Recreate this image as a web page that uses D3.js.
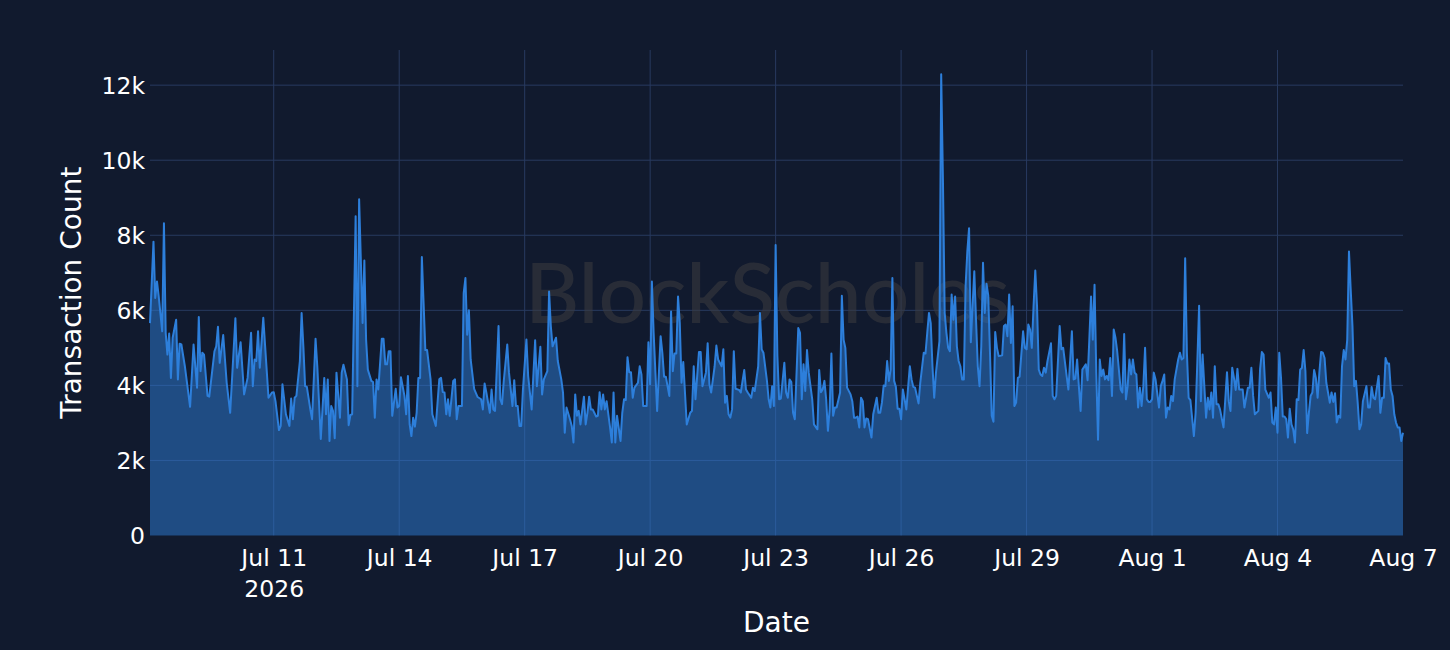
<!DOCTYPE html>
<html>
<head>
<meta charset="utf-8">
<script src="https://cdn.jsdelivr.net/npm/d3@7"></script>
<style>
  html, body { margin: 0; padding: 0; background: #111a2e; }
  svg { display: block; }
</style>
</head>
<body>
<svg id="chart" width="1450" height="650"></svg>
<script>
// ---- data (hourly transaction counts) ----
const startDate = "2026-07-08T00:00:00";
const hourOffsets = [1,3,4,5,6,8,9,10,11,12,13,14,16,17,18,19,21,24,26,28,29,30,31,32,34,35,38,39,40,41,43,45,47,50,51,53,55,57,59,60,61,62,63,64,66,68,69,71,72,73,75,76,77,79,81,82,83,84,85,87,88,89,90,91,93,94,96,97,99,101,102,103,104,105,106,107,108,110,111,112,114,115,116,117,119,120,121,123,124,125,126,128,129,130,131,132,134,135,136,137,138,139,140,142,143,144,145,147,148,149,150,151,152,153,154,155,156,157,158,159,160,162,163,165,167,168,169,170,171,172,173,175,176,177,178,180,181,182,183,184,185,187,189,191,192,193,194,196,197,198,199,201,202,203,204,206,207,209,210,211,212,213,214,215,217,218,220,222,223,225,226,227,229,230,231,232,234,235,237,238,239,240,242,243,244,245,246,247,248,250,251,252,253,254,255,257,258,259,260,261,262,263,265,266,267,268,269,271,272,273,274,275,276,277,278,279,281,282,283,284,286,287,288,289,290,292,294,295,296,297,299,300,301,302,303,304,305,306,307,309,311,312,313,314,316,317,318,320,321,322,323,325,326,327,329,330,331,332,333,334,335,336,337,339,340,342,343,344,346,347,348,350,351,352,353,355,356,357,358,359,360,361,362,363,365,366,367,368,369,370,371,373,374,375,376,377,378,379,381,382,384,385,386,387,388,389,390,391,392,393,394,395,397,398,399,400,401,403,404,405,406,407,408,409,410,411,412,413,415,416,418,419,420,421,422,423,424,425,426,427,428,429,430,431,432,433,434,435,437,438,439,440,442,443,445,446,447,448,449,450,451,452,454,455,456,457,458,459,460,461,462,463,464,465,466,467,468,469,470,471,472,473,474,475,476,477,478,479,480,481,482,483,484,485,486,487,488,490,491,492,493,494,495,496,497,498,499,500,502,503,504,505,506,507,508,509,510,511,512,513,514,515,516,518,519,520,521,523,524,525,527,528,530,531,532,533,534,535,536,538,539,540,541,542,543,544,545,546,547,548,549,550,551,552,553,554,555,556,558,559,560,561,562,563,564,565,566,567,568,569,570,571,572,573,574,575,576,577,578,580,581,582,583,584,585,586,587,588,589,591,592,593,594,595,596,597,598,600,601,602,603,604,605,606,607,608,609,610,611,612,613,614,615,617,619,620,621,622,623,624,625,626,628,629,631,632,633,634,635,637,638,639,640,641,643,644,645,646,647,648,649,650,651,652,653,654,655,656,657,658,659,660,661,662,663,664,665,666,667,668,669,670,671,672,673,674,675,676,678,679,680,681,682,683,684,685,686,687,688,689,690,691,692,693,694,695,696,697,699,700,701,702,703,704,705,706,707,708,709,710,711,712,713,714,715,716,717,718,719,720];
const txCounts = [5660,7830,6330,6770,6370,5440,8320,5400,4820,5380,4200,5270,5750,4160,5110,5090,4510,3430,5090,3940,5820,4380,4870,4820,3720,3700,4910,5040,5560,4600,5340,4070,3270,5790,4470,5150,3760,4200,5400,3980,4690,4650,5440,4470,5800,4380,3670,3810,3820,3580,2810,2920,4030,3230,2920,3650,3100,3670,3720,4650,5930,5040,3980,3960,3360,3100,5240,4510,2570,4200,3230,4160,2520,3450,3320,2590,4340,3140,4340,4550,4160,2940,3210,3230,8510,3980,8960,5660,7330,5220,4420,4120,4090,3140,4160,3890,5240,5240,4560,4560,4910,4910,3190,3910,3410,3450,4220,3720,3230,4250,2960,2650,3140,2900,3270,4200,4200,7420,6190,4940,4940,4160,3230,2920,4160,4200,3820,3810,3230,3630,3190,4120,4160,3100,3450,3450,6460,6860,5350,6000,4690,3910,3690,3630,3360,4050,3810,3270,3890,3360,3320,5580,3630,3500,4120,5090,4340,3450,4140,3450,3450,2920,2920,3890,5220,4250,3360,5200,3980,5030,3760,4160,4380,6500,5580,5040,5270,4650,4160,3810,2740,3410,3100,2920,2480,3760,3190,3320,2960,3700,2960,3270,3700,3360,3360,3170,3190,3820,3360,3760,3360,3580,2880,2480,3810,2480,3190,2520,3270,3630,3610,4750,4350,4350,3670,3940,4070,4510,4290,3450,3450,5150,4030,6770,5400,3320,5310,4870,4230,4230,3720,5970,4380,4850,4850,6370,5660,4070,4620,2960,3270,3320,4510,3630,4890,4890,3980,4340,5120,4030,3810,4510,5060,4690,4510,4960,3540,3720,3230,3140,3360,4910,3910,3880,3810,4410,3890,3810,3670,3940,3850,4510,5930,4960,4870,4130,3630,3410,3980,3450,7740,4800,3630,3650,4600,3810,3670,4160,4090,3270,3100,5530,5400,3630,4560,3850,4940,4340,3630,2960,2830,4410,3820,3890,4120,3630,2790,3360,4850,3190,3410,3410,3810,6390,5220,5000,3940,3760,3580,3140,3140,3170,2880,3670,3580,2880,3120,3100,2610,3230,3670,3270,3270,3540,4000,3980,4650,4120,4420,6860,4120,3960,3380,3380,3100,3890,3630,3360,4510,4160,3960,3940,3520,4070,4870,4850,5400,5930,5660,4510,3670,4340,5180,12290,9500,5930,5400,5000,4910,6420,5750,6370,5040,4650,4510,4160,4160,6640,7570,8190,5150,6110,7040,5750,4510,3980,5040,7270,5930,6710,6400,4870,3190,3030,5420,5000,4780,4800,5580,5620,5310,6420,5130,6110,3450,3540,4200,4230,5440,5000,4960,5620,5490,5000,6110,7060,6110,4420,4290,4250,4470,4340,4650,5120,3720,3630,3720,5580,4960,5000,4250,3890,5440,4160,4180,4690,3980,3320,4420,4560,4140,5220,6370,5220,6680,4340,2550,4690,4250,4420,4160,4250,4140,4730,3720,5490,5270,4910,3890,3810,5370,3630,3980,4690,4290,4690,4340,4290,3410,3940,3450,3980,5000,3630,3560,3560,3630,4340,4160,3410,3980,4120,4290,3140,3410,3360,3720,3580,4160,4690,4870,4690,4730,7390,4870,3670,3610,2650,3270,4650,6120,3580,4820,3980,3140,3670,3360,3810,3140,4510,3500,3500,3360,2880,4350,3580,3320,4470,4200,3880,4440,3890,3890,3410,3940,3940,4470,3720,3230,3320,4440,4890,4820,3890,3670,3810,3010,2960,3410,2740,4870,4200,3170,3170,3100,2610,3380,2960,2830,2480,3630,3610,4420,4470,4940,4380,2730,3270,3720,3810,4410,4200,3670,4340,4890,4870,4730,4070,3540,3810,3560,3790,3010,3190,3140,4510,4940,4690,5220,7570,6550,5580,3980,4120,3540,2830,2960,3580,3980,3410,3410,3960,3670,3630,3940,4250,3270,3670,3670,4730,4580,4580,3890,3720,3230,3010,2880,2880,2520,2740];
const xTickDates = ["2026-07-11","2026-07-14","2026-07-17","2026-07-20","2026-07-23","2026-07-26","2026-07-29","2026-08-01","2026-08-04","2026-08-07"];
const yTickValues = [0, 2000, 4000, 6000, 8000, 10000, 12000];
const xTitle = "Date";
const yTitle = "Transaction Count";
const watermark = "BlockScholes";

// ---- build ----
const W = 1450, H = 650;
const margin = { top: 50, right: 47, bottom: 114.5, left: 150 };
const innerW = W - margin.left - margin.right;
const innerH = H - margin.top - margin.bottom;

const parseDay = d3.timeParse("%Y-%m-%d");
const start = d3.isoParse(startDate);
const data = hourOffsets.map((h, i) => ({ date: d3.timeHour.offset(start, h), value: txCounts[i] }));
const tickDates = xTickDates.map(parseDay);

const x = d3.scaleTime().domain(d3.extent(data, d => d.date)).range([0, innerW]);
const yMax = d3.max(data, d => d.value) / 0.95;
const y = d3.scaleLinear().domain([0, yMax]).range([innerH, 0]);

const svg = d3.select("#chart");
svg.append("rect").attr("width", W).attr("height", H).attr("fill", "#111a2e");

const g = svg.append("g").attr("transform", `translate(${margin.left},${margin.top})`);
const font = "'DejaVu Sans', Verdana, sans-serif";
const gridColor = "#283a60";

// grid
g.append("g").selectAll("line").data(yTickValues.filter(v => v > 0)).join("line")
  .attr("x1", 0).attr("x2", innerW)
  .attr("y1", d => y(d)).attr("y2", d => y(d))
  .attr("stroke", gridColor).attr("stroke-width", 1);
g.append("g").selectAll("line").data(tickDates.filter(d => x(d) < innerW - 1)).join("line")
  .attr("x1", d => x(d)).attr("x2", d => x(d))
  .attr("y1", 0).attr("y2", innerH)
  .attr("stroke", gridColor).attr("stroke-width", 1);

// watermark
g.append("text")
  .attr("x", innerW / 2 - 9).attr("y", 323 - margin.top)
  .attr("text-anchor", "middle")
  .attr("font-family", "Lato, 'Open Sans', sans-serif")
  .attr("font-size", 84)
  .attr("font-weight", 500)
  .attr("textLength", 485).attr("lengthAdjust", "spacingAndGlyphs")
  .attr("fill", "#3c3c40").attr("fill-opacity", 0.55)
  .text(watermark);

// area + line
const area = d3.area().x(d => x(d.date)).y0(y(0)).y1(d => y(d.value));
const line = d3.line().x(d => x(d.date)).y(d => y(d.value));
g.append("path").datum(data).attr("d", area)
  .attr("fill", "rgb(46,125,215)").attr("fill-opacity", 0.5);
g.append("path").datum(data).attr("d", line)
  .attr("fill", "none").attr("stroke", "rgb(45,127,219)").attr("stroke-width", 2)
  .attr("stroke-linejoin", "round");

// y axis
const yAxis = d3.axisLeft(y).tickValues(yTickValues)
  .tickFormat(v => v === 0 ? "0" : (v / 1000) + "k").tickSize(0).tickPadding(5);
const ya = g.append("g").call(yAxis);
ya.select(".domain").remove();
ya.selectAll("text").attr("font-family", font).attr("font-size", 23.5).attr("fill", "#ffffff").attr("dy", "0.36em");

// x axis
const fmt = d3.timeFormat("%b %-d");
const xa = g.append("g").attr("transform", `translate(0,${innerH})`)
  .call(d3.axisBottom(x).tickValues(tickDates).tickFormat(() => "").tickSize(0));
xa.select(".domain").remove();
xa.selectAll(".tick").each(function(d, i) {
  const t = d3.select(this).select("text")
    .attr("font-family", font).attr("font-size", 23.5).attr("fill", "#ffffff")
    .attr("y", 0).attr("dy", null);
  t.append("tspan").attr("x", 0).attr("y", 30.5).text(fmt(d));
  if (i === 0) t.append("tspan").attr("x", 0).attr("y", 61).text(d3.timeFormat("%Y")(d));
});

// titles
svg.append("text")
  .attr("x", margin.left + innerW / 2).attr("y", 632)
  .attr("text-anchor", "middle").attr("font-family", font).attr("font-size", 28).attr("fill", "#ffffff")
  .text(xTitle);
svg.append("text")
  .attr("transform", `translate(81,${margin.top + innerH / 2}) rotate(-90)`)
  .attr("text-anchor", "middle").attr("font-family", font).attr("font-size", 28).attr("fill", "#ffffff")
  .text(yTitle);
</script>
</body>
</html>
